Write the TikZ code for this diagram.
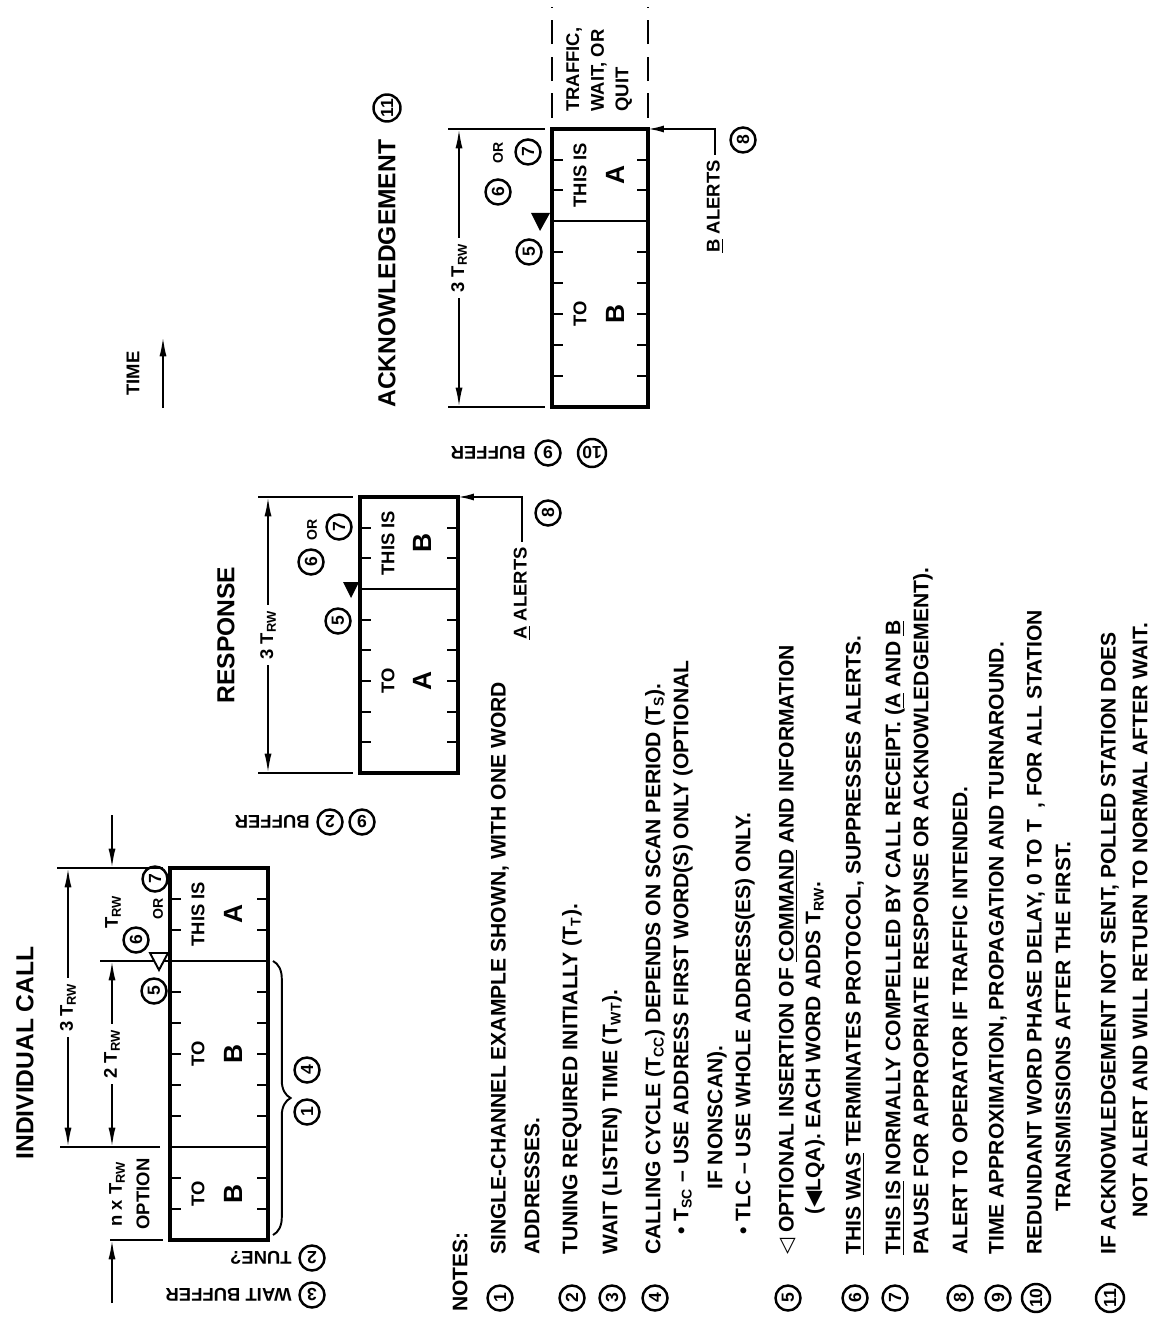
\documentclass[tikz,border=0pt]{standalone}
\usepackage{fontspec}
\setmainfont{Liberation Sans}
\newfontfamily\symfont{DejaVu Sans}
\usetikzlibrary{arrows.meta,decorations.pathreplacing}

\newcommand{\ttlfont}{\bfseries\fontsize{14}{16}\selectfont}
\newcommand{\lblfont}{\bfseries\fontsize{10.5}{14}\selectfont}
\newcommand{\bigfont}{\bfseries\fontsize{15}{16}\selectfont}
\newcommand{\notefont}{\bfseries\fontsize{12}{14}\selectfont}
\newcommand{\numfont}{\bfseries\fontsize{10}{10}\selectfont}
\newcommand{\orfont}{\bfseries\fontsize{8}{8}\selectfont}
\newcommand{\Trw}{T\textsubscript{RW}}

\begin{document}
\begin{tikzpicture}[x=0.02cm,y=-0.02cm,
    every node/.style={inner sep=0pt},
    lbl/.style={font=\lblfont,rotate=90},
    ttl/.style={font=\ttlfont,rotate=90},
    big/.style={font=\bigfont,rotate=90},
    orlbl/.style={font=\orfont,rotate=90},
    flip/.style={font=\lblfont,rotate=180,anchor=west},
    note/.style={font=\notefont,rotate=90,anchor=west},
    ring/.style={circle,draw,line width=1.4pt,minimum size=0.5cm,font=\numfont},
    num/.style={ring,rotate=90},
    numflip/.style={ring,rotate=180},
    wordbox/.style={line width=1.8pt},
    rule/.style={line width=1.1pt},
    tickmark/.style={line width=1.1pt},
    dim/.style={line width=1.1pt,{Latex[length=11pt,width=4pt]}-{Latex[length=11pt,width=4pt]}},
    dimarr/.style={line width=1.1pt,-{Latex[length=11pt,width=4pt]}},
    dimlbl/.style={fill=white,font=\lblfont,rotate=90,inner sep=3pt},
    alertarr/.style={line width=1.1pt,-{Latex[length=9pt,width=4pt]},shorten <=3pt}]
  \useasboundingbox (0,0) rectangle (1163,1317);

  \node[ttl] (icT) at (25,1053) {INDIVIDUAL CALL};
  \draw[wordbox] (170,868) rectangle (268,1240);
  \draw[rule] (170,961) -- (268,961);
  \draw[rule] (170,1147) -- (268,1147);
  \foreach \t in {1209,1178,1116,1085,1054,1023,992,930,899} {
    \draw[tickmark] (170,\t) -- ++(11,0);
    \draw[tickmark] (268,\t) -- ++(-11,0);
  }
  \node[lbl] (icThis) at (198,914) {THIS IS};
  \node[big] (icA) at (233,914) {A};
  \node[lbl] (icTo) at (198,1054) {TO};
  \node[big] (icB) at (233,1054) {B};
  \node[lbl] (icTo2) at (198,1194) {TO};
  \node[big] (icB2) at (233,1194) {B};
  \draw[rule] (57,868) -- (163,868);
  \draw[rule] (100,961) -- (168,961);
  \draw[rule] (60,1147) -- (160,1147);
  \draw[rule] (110,1240) -- (163,1240);
  \draw[dim] (68,868) -- node[dimlbl] (ic3) {3 \Trw} (68,1147);
  \draw[dim] (112,961) -- node[dimlbl] (ic2) {2 \Trw} (112,1147);
  \draw[dimarr] (112,815) -- (112,868);
  \draw[dimarr] (112,1303) -- (112,1240);
  \node[lbl] (icTrw) at (113,912) {\Trw};
  \node[lbl] (icN) at (117,1194) {n x \Trw};
  \node[lbl] (icOpt) at (143,1194) {OPTION};
  \draw[rule,fill=white] (150,953) -- (168,953) -- (159,970) -- cycle;
  \node[num] (ic5) at (154,991) {5};
  \node[num] (ic6) at (136,940) {6};
  \node[orlbl] (icOr) at (158,909) {OR};
  \node[num] (ic7) at (155,879) {7};
  \draw[rule,decorate,decoration={brace,amplitude=10pt}] (273,961) -- (273,1235);
  \node[num] (ic4) at (307,1070) {4};
  \node[num] (ic1) at (307,1112) {1};
  \node[numflip] (icN2) at (312,1258) {2};
  \node[flip] (icTune) at (292,1258) {TUNE?};
  \node[numflip] (icN3) at (312,1295) {3};
  \node[flip] (icWait) at (292,1295) {WAIT BUFFER};

  \node[ttl] (rsT) at (226,635) {RESPONSE};
  \draw[wordbox] (360,497) rectangle (458,773);
  \draw[rule] (360,589) -- (458,589);
  \foreach \t in {742,712,681,650,620,558,528} {
    \draw[tickmark] (360,\t) -- ++(11,0);
    \draw[tickmark] (458,\t) -- ++(-11,0);
  }
  \node[lbl] (rsThis) at (388,543) {THIS IS};
  \node[big] (rsB) at (422,543) {B};
  \node[lbl] (rsTo) at (388,681) {TO};
  \node[big] (rsA) at (422,681) {A};
  \draw[rule] (258,497) -- (353,497);
  \draw[rule] (258,773) -- (353,773);
  \draw[dim] (268,497) -- node[dimlbl] (rs3) {3 \Trw} (268,773);
  \fill (343,582) -- (359,582) -- (351,598) -- cycle;
  \node[num] (rs5) at (338,621) {5};
  \node[num] (rs6) at (311,562) {6};
  \node[orlbl] (rsOr) at (312,530) {OR};
  \node[num] (rs7) at (339,527) {7};
  \coordinate (rsNE) at (458,497);
  \node[lbl,anchor=west] (rsAl) at (522,640) {\underline{A} ALERTS};
  \draw[alertarr] (rsAl.east) |- (rsNE);
  \node[num] (rs8) at (548,513) {8};
  \node[numflip] (rs9) at (362,822) {9};
  \node[numflip] (rs2) at (330,822) {2};
  \node[flip] (rsBuf) at (310,822) {BUFFER};

  \node[ttl,anchor=west] (akT) at (387,408) {ACKNOWLEDGEMENT};
  \node[num,minimum size=0.54cm] (ak11) at (387,108) {11};
  \draw[wordbox] (552,129) rectangle (648,407);
  \draw[rule] (552,221) -- (648,221);
  \foreach \t in {376,345,314,283,252,190,160} {
    \draw[tickmark] (552,\t) -- ++(11,0);
    \draw[tickmark] (648,\t) -- ++(-11,0);
  }
  \node[lbl] (akThis) at (580,175) {THIS IS};
  \node[big] (akA) at (615,175) {A};
  \node[lbl] (akTo) at (580,314) {TO};
  \node[big] (akB) at (615,314) {B};
  \draw[rule] (448,129) -- (545,129);
  \draw[rule] (448,407) -- (545,407);
  \draw[dim] (459,129) -- node[dimlbl] (ak3) {3 \Trw} (459,407);
  \fill (531,213) -- (550,213) -- (540,231) -- cycle;
  \node[num] (ak5) at (529,252) {5};
  \node[num] (ak6) at (498,192) {6};
  \node[orlbl] (akOr) at (498,153) {OR};
  \node[num] (ak7) at (528,152) {7};
  \draw[rule,dash pattern=on 14pt off 7pt] (552,118) -- (552,7);
  \draw[rule,dash pattern=on 14pt off 7pt] (648,118) -- (648,7);
  \node[lbl,anchor=north west,align=left] (akTr) at (566,112) {TRAFFIC,\\WAIT, OR\\QUIT};
  \coordinate (akNE) at (648,129);
  \node[lbl,anchor=west] (akAl) at (715,253) {\underline{B} ALERTS};
  \draw[alertarr] (akAl.east) |- (akNE);
  \node[num] (ak8) at (743,140) {8};
  \node[numflip,minimum size=0.56cm] (ak10) at (592,453) {10};
  \node[numflip] (ak9) at (548,453) {9};
  \node[flip] (akBuf) at (526,453) {BUFFER};

  \node[lbl,anchor=west] (tm) at (133,396) {TIME};
  \coordinate (tmA) at (163,408);
  \coordinate (tmB) at (163,337);
  \draw[dimarr] (tmA) -- (tmB);

  \node[note] (nt) at (460,1312) {NOTES:};
  \node[num] (n1) at (500,1298) {1};
  \node[note] (n1a) at (500,1255) {SINGLE-CHANNEL EXAMPLE SHOWN, WITH ONE WORD};
  \node[note] (n1b) at (532,1255) {ADDRESSES.};
  \node[num] (n2) at (572,1298) {2};
  \node[note] (n2a) at (572,1255) {TUNING REQUIRED INITIALLY (T\textsubscript{T}).};
  \node[num] (n3) at (612,1298) {3};
  \node[note] (n3a) at (612,1255) {WAIT (LISTEN) TIME (T\textsubscript{WT}).};
  \node[num] (n4) at (655,1298) {4};
  \node[note] (n4a) at (655,1255) {CALLING CYCLE (T\textsubscript{CC}) DEPENDS ON SCAN PERIOD (T\textsubscript{S}).};
  \node[note] (n4b) at (683,1235) {\textbullet\ T\textsubscript{SC} -- USE ADDRESS FIRST WORD(S) ONLY (OPTIONAL};
  \node[note] (n4c) at (717,1190) {IF NONSCAN).};
  \node[note] (n4d) at (745,1235) {\textbullet\ TLC -- USE WHOLE ADDRESS(ES) ONLY.};
  \node[num] (n5) at (788,1298) {5};
  \node[note] (n5a) at (788,1255) {{\symfont ◁} OPTIONAL INSERTION OF \underline{COMMAND} AND INFORMATION};
  \node[note] (n5b) at (815,1215) {({\symfont ◀}LQA). EACH WORD ADDS \Trw.};
  \node[num] (n6) at (855,1298) {6};
  \node[note] (n6a) at (855,1255) {\underline{THIS WAS} TERMINATES PROTOCOL, SUPPRESSES ALERTS.};
  \node[num] (n7) at (895,1298) {7};
  \node[note] (n7a) at (895,1255) {\underline{THIS IS} NORMALLY COMPELLED BY CALL RECEIPT. (\underline{A} AND \underline{B}};
  \node[note] (n7b) at (923,1255) {PAUSE FOR APPROPRIATE RESPONSE OR ACKNOWLEDGEMENT).};
  \node[num] (n8) at (960,1298) {8};
  \node[note] (n8a) at (960,1255) {ALERT TO OPERATOR IF TRAFFIC INTENDED.};
  \node[num] (n9) at (998,1298) {9};
  \node[note] (n9a) at (998,1255) {TIME APPROXIMATION, PROPAGATION AND TURNAROUND.};
  \node[num,minimum size=0.56cm] (n10) at (1036,1298) {10};
  \node[note] (n10a) at (1036,1255) {REDUNDANT WORD PHASE DELAY, 0 TO T\ \ , FOR ALL STATION};
  \node[note] (n10b) at (1063,1212) {TRANSMISSIONS AFTER THE FIRST.};
  \node[num,minimum size=0.56cm] (n11) at (1110,1298) {11};
  \node[note] (n11a) at (1110,1255) {IF ACKNOWLEDGEMENT NOT SENT, POLLED STATION DOES};
  \node[note] (n11b) at (1140,1218) {NOT ALERT AND WILL RETURN TO NORMAL AFTER WAIT.};
\end{tikzpicture}
\end{document}
